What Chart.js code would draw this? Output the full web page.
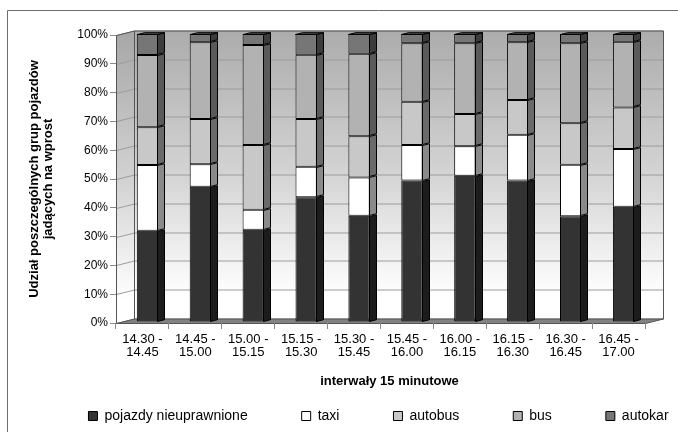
<!DOCTYPE html>
<html>
<head>
<meta charset="utf-8">
<script src="https://cdn.jsdelivr.net/npm/chart.js@4.4.1/dist/chart.umd.min.js"></script>
<style>
  html, body { margin: 0; padding: 0; background: #fff; overflow: hidden; }
  canvas { display: block; }
</style>
</head>
<body>
<canvas id="myChart" width="757" height="432"></canvas>
<script>
const categories = [
    ['14.30 -', '14.45'], ['14.45 -', '15.00'], ['15.00 -', '15.15'], ['15.15 -', '15.30'],
    ['15.30 -', '15.45'], ['15.45 -', '16.00'], ['16.00 -', '16.15'], ['16.15 -', '16.30'],
    ['16.30 -', '16.45'], ['16.45 -', '17.00']
];

// udział procentowy w każdym interwale
const pojazdyNieuprawnione = [31.7, 47.0, 32.0, 43.3, 36.9, 49.1, 50.8, 49.1, 36.7, 40.0];
const taxi = [22.8, 7.8, 7.0, 10.6, 13.3, 12.4, 10.2, 15.9, 17.9, 20.1];
const autobus = [13.1, 15.7, 22.5, 16.6, 14.3, 15.0, 11.2, 12.1, 14.4, 14.4];
const bus = [25.1, 26.6, 34.7, 22.3, 28.6, 20.3, 24.6, 20.0, 27.8, 22.8];
const autokar = [7.3, 2.9, 3.8, 7.2, 6.9, 3.2, 3.2, 2.9, 3.2, 2.7];

const seriesNames = ['pojazdy nieuprawnione', 'taxi', 'autobus', 'bus', 'autokar'];
const seriesData = [pojazdyNieuprawnione, taxi, autobus, bus, autokar];
const frontColors = ['#333333', '#ffffff', '#c8c8c8', '#b2b2b2', '#767676'];
const sideColors = ['#1c1c1c', '#8a8a8a', '#6a6a6a', '#5a5a5a', '#3c3c3c'];
const topColor = '#4a4a4a';

// głębokość ścian i słupków (pseudo 3D)
const WALL_DX = 18, WALL_DY = -4.5;
const BAR_SHIFT_X = 5, BAR_SHIFT_Y = -1;
const BAR_DX = 7, BAR_DY = -1.8;
const LEGEND_PAD = 54, LEGEND_Y = 416;
const XTITLE_Y = 381;

Chart.defaults.font.family = '"Liberation Sans", Arial, sans-serif';
Chart.defaults.font.size = 12;
Chart.defaults.color = '#000';

function poly(ctx, pts, fill, stroke) {
    ctx.beginPath();
    ctx.moveTo(pts[0][0], pts[0][1]);
    for (let i = 1; i < pts.length; i++) ctx.lineTo(pts[i][0], pts[i][1]);
    ctx.closePath();
    if (fill) { ctx.fillStyle = fill; ctx.fill(); }
    if (stroke) { ctx.strokeStyle = stroke; ctx.stroke(); }
}

const walls = {
    id: 'walls',
    afterLayout(chart) {
        const a = chart.chartArea;
        // legenda w jednym wierszu, niżej niż wynikałoby z paddingu
        chart.legend.top = LEGEND_Y - LEGEND_PAD - 7;
        chart.legend.bottom = chart.height;
        // tytuł osi X wyśrodkowany pod całą podłogą (z głębokością)
        const tb = chart.titleBlock;
        const h = tb.bottom - tb.top;
        tb.left = a.left;
        tb.right = a.right + WALL_DX;
        tb.top = XTITLE_Y - h / 2;
        tb.bottom = tb.top + h;
    },
    beforeDraw(chart) {
        const {ctx, chartArea: a, scales: {y}} = chart;
        const L = Math.round(a.left) + 0.5, R = Math.round(a.right) + 0.5;
        const T = Math.round(a.top) + 0.5, B = Math.round(a.bottom) + 0.5;
        ctx.save();
        ctx.lineWidth = 1;

        // ramka
        ctx.strokeStyle = '#6e6e6e';
        ctx.beginPath();
        ctx.moveTo(7.5, chart.height);
        ctx.lineTo(7.5, 10.5);
        ctx.lineTo(chart.width - 7.5, 10.5);
        ctx.lineTo(chart.width - 7.5, chart.height);
        ctx.stroke();

        // tylna ściana
        const bT = T + WALL_DY, bB = B + WALL_DY;
        let g = ctx.createLinearGradient(0, bT, 0, bB);
        g.addColorStop(0, '#acacac');
        g.addColorStop(0.5, '#d4d4d4');
        g.addColorStop(0.92, '#ffffff');
        poly(ctx, [[L + WALL_DX, bT], [R + WALL_DX, bT], [R + WALL_DX, bB], [L + WALL_DX, bB]], g, null);

        // lewa ściana
        g = ctx.createLinearGradient(0, T, 0, B);
        g.addColorStop(0, '#a8a8a8');
        g.addColorStop(0.5, '#d2d2d2');
        g.addColorStop(0.92, '#ffffff');
        poly(ctx, [[L, T], [L + WALL_DX, bT], [L + WALL_DX, bB], [L, B]], g, null);

        // linie siatki
        ctx.strokeStyle = '#9c9c9c';
        y.ticks.forEach(t => {
            const py = Math.round(y.getPixelForValue(t.value)) + 0.5;
            ctx.beginPath();
            ctx.moveTo(L, py);
            ctx.lineTo(L + WALL_DX, py + WALL_DY);
            ctx.lineTo(R + WALL_DX, py + WALL_DY);
            ctx.stroke();
        });

        // podłoga
        poly(ctx, [[L, B], [R, B], [R + WALL_DX, bB], [L + WALL_DX, bB]], '#828282', '#555');

        // krawędzie ścian
        ctx.strokeStyle = '#555';
        ctx.beginPath();
        ctx.moveTo(L, B);
        ctx.lineTo(L, T);
        ctx.lineTo(L + WALL_DX, bT);
        ctx.lineTo(R + WALL_DX, bT);
        ctx.lineTo(R + WALL_DX, bB);
        ctx.moveTo(L + WALL_DX, bT);
        ctx.lineTo(L + WALL_DX, bB);
        ctx.stroke();
        ctx.restore();
    },
    beforeDatasetsDraw(chart) {
        chart.ctx.save();
        chart.ctx.translate(BAR_SHIFT_X, BAR_SHIFT_Y);
    },
    afterDatasetsDraw(chart) {
        const ctx = chart.ctx;
        ctx.restore();
        ctx.save();
        ctx.lineWidth = 1;
        const last = chart.data.datasets.length - 1;
        chart.data.datasets.forEach((ds, i) => {
            chart.getDatasetMeta(i).data.forEach(bar => {
                const {x, y, base, width} = bar.getProps(['x', 'y', 'base', 'width'], true);
                const l = Math.round(x - width / 2 + BAR_SHIFT_X) + 0.5;
                const r = Math.round(x + width / 2 + BAR_SHIFT_X) - 0.5;
                const top = Math.round(y + BAR_SHIFT_Y) + 0.5;
                const bot = Math.round(base + BAR_SHIFT_Y) - 0.5;
                poly(ctx, [[r, top], [r + BAR_DX, top + BAR_DY], [r + BAR_DX, bot + BAR_DY], [r, bot]], sideColors[i], '#000');
                if (i === last) {
                    poly(ctx, [[l, top], [l + BAR_DX, top + BAR_DY], [r + BAR_DX, top + BAR_DY], [r, top]], topColor, '#000');
                }
            });
        });
        ctx.restore();
    }
};

const ctx = document.getElementById('myChart');
new Chart(ctx, {
    type: 'bar',
    data: {
        labels: categories,
        datasets: seriesNames.map((name, i) => ({
            label: name,
            data: seriesData[i],
            backgroundColor: frontColors[i],
            borderColor: '#000',
            borderWidth: 1,
            borderSkipped: false,
            barPercentage: 0.403,
            categoryPercentage: 1,
            clip: false
        }))
    },
    options: {
        responsive: false,
        animation: false,
        events: [],
        layout: { padding: { left: 0, right: 0, top: 35, bottom: 0 } },
        scales: {
            x: {
                stacked: true,
                grid: { drawOnChartArea: false, drawTicks: true, tickLength: 6, color: '#8a8a8a', offset: true },
                border: { display: false },
                ticks: { maxRotation: 0, autoSkip: false, padding: 4, font: { size: 13, lineHeight: 1.0 } },
                afterFit(scale) { scale.height = 51.4; }
            },
            y: {
                stacked: true,
                min: 0,
                max: 100,
                grid: { drawOnChartArea: false, drawTicks: true, tickLength: 6, color: '#8a8a8a' },
                border: { display: false },
                ticks: { stepSize: 10, padding: 2, callback: v => v + '%' },
                title: {
                    display: true,
                    text: ['Udział poszczególnych grup pojazdów', 'jadących na wprost'],
                    font: { size: 13, weight: 'bold', lineHeight: 1.1 },
                    padding: { top: 27, bottom: 0 }
                },
                afterFit(scale) { scale.width = 116; }
            },
            // pusta oś po prawej – miejsce na głębokość ściany
            depth: {
                type: 'linear',
                position: 'right',
                grid: { display: false },
                border: { display: false },
                ticks: { display: false },
                afterFit(scale) { scale.width = 112; }
            }
        },
        plugins: {
            tooltip: { enabled: false },
            title: {
                display: true,
                position: 'bottom',
                text: 'interwały 15 minutowe',
                color: '#000',
                font: { size: 13, weight: 'bold', lineHeight: 1.2 },
                padding: 0
            },
            legend: {
                position: 'bottom',
                maxHeight: 42,
                labels: { boxWidth: 9, boxHeight: 9, padding: LEGEND_PAD, font: { size: 14 } }
            }
        }
    },
    plugins: [walls]
});
</script>
</body>
</html>
